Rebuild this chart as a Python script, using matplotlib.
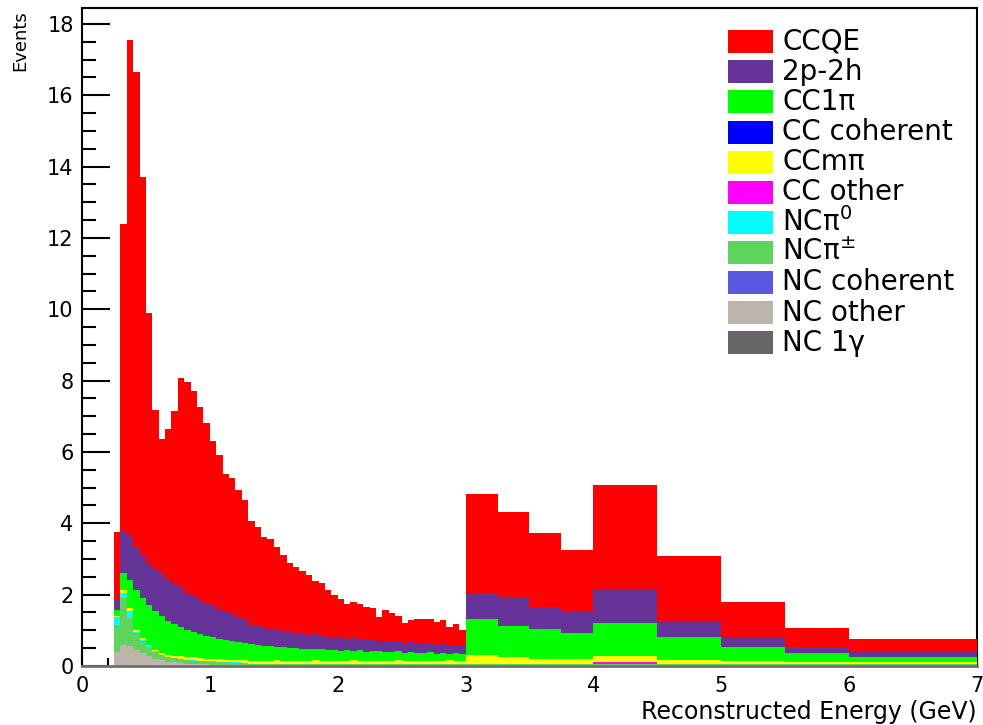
import numpy as np
import matplotlib
matplotlib.use("Agg")
import matplotlib.pyplot as plt
from matplotlib.patches import Rectangle
from matplotlib.ticker import MultipleLocator

### binning: fine 0.05 GeV bins up to 3 GeV, then wide bins
edges_low = [0.25 + 0.05 * i for i in range(56)]
edges_high = [3.25, 3.5, 3.75, 4.0, 4.5, 5.0, 5.5, 6.0, 7.0]

### event counts per channel, low-energy part (55 bins)
ccqe_low = [1.92, 8.64, 13.87, 13.30, 10.60, 7.00, 4.47, 3.79, 4.21, 4.85,
            5.88, 5.89, 5.76, 5.41, 5.03, 4.64, 4.32, 3.86, 3.82, 3.57,
            3.37, 2.91, 2.76, 2.52, 2.51, 2.30, 2.13, 1.93, 1.85, 1.76,
            1.69, 1.49, 1.51, 1.33, 1.17, 1.09, 0.98, 0.99, 0.99, 0.93,
            0.88, 0.67, 0.89, 0.77, 0.72, 0.57, 0.62, 0.68, 0.71, 0.66,
            0.64, 0.66, 0.50, 0.58, 0.45]
np2h_low = [0.28, 1.14, 1.28, 1.22, 1.20, 1.18, 1.19, 1.18, 1.16, 1.13,
            1.10, 1.05, 1.01, 0.97, 0.93, 0.88, 0.84, 0.79, 0.75, 0.69,
            0.63, 0.54, 0.54, 0.52, 0.48, 0.51, 0.46, 0.47, 0.42, 0.42,
            0.37, 0.42, 0.36, 0.36, 0.35, 0.35, 0.31, 0.37, 0.30, 0.32,
            0.32, 0.27, 0.28, 0.33, 0.25, 0.27, 0.28, 0.27, 0.25, 0.27,
            0.25, 0.26, 0.24, 0.24, 0.23]
cc1pi_low = [0.17, 0.49, 0.78, 1.12, 1.12, 1.13, 1.08, 1.04, 0.96, 0.88,
             0.81, 0.76, 0.71, 0.67, 0.63, 0.60, 0.57, 0.55, 0.53, 0.50,
             0.49, 0.47, 0.45, 0.43, 0.42, 0.38, 0.37, 0.35, 0.36, 0.33,
             0.34, 0.31, 0.32, 0.29, 0.32, 0.28, 0.30, 0.27, 0.29, 0.25,
             0.27, 0.28, 0.25, 0.23, 0.26, 0.22, 0.24, 0.21, 0.22, 0.23,
             0.20, 0.21, 0.19, 0.21, 0.18]
cccoh_low = [0.0] * 55
ccmpi_low = [0.02, 0.07, 0.07, 0.05, 0.05, 0.04, 0.04, 0.05, 0.05, 0.06,
             0.07, 0.07, 0.08, 0.07, 0.07, 0.07, 0.07, 0.07, 0.07, 0.07,
             0.07, 0.08, 0.08, 0.07, 0.08, 0.09, 0.08, 0.08, 0.07, 0.08,
             0.08, 0.09, 0.08, 0.08, 0.07, 0.08, 0.08, 0.09, 0.08, 0.08,
             0.08, 0.07, 0.08, 0.08, 0.09, 0.08, 0.08, 0.08, 0.07, 0.08,
             0.08, 0.08, 0.09, 0.08, 0.08]
ccother_low = [0.0] * 55
ncpi0_low = [0.23, 0.16, 0.21, 0.03, 0.02, 0.02] + [0.01] * 49
ncpipm_low = [0.75, 1.32, 0.78, 0.47, 0.34, 0.24, 0.19, 0.14, 0.13, 0.12,
              0.11, 0.10, 0.09, 0.09, 0.08, 0.08, 0.07, 0.07, 0.06, 0.06,
              0.06] + [0.04] * 34
nccoh_low = [0.0] * 55
ncother_low = [0.40, 0.58, 0.56, 0.46, 0.37, 0.29, 0.21, 0.16, 0.12, 0.10,
               0.08, 0.07, 0.06, 0.05, 0.05, 0.04, 0.04, 0.03, 0.03, 0.03,
               0.02] + [0.02] * 34
nc1g_low = [0.0] * 55

### high-energy part (9 wide bins)
ccqe_high = [2.78, 2.38, 2.06, 1.73, 2.91, 1.80, 1.02, 0.53, 0.36]
np2h_high = [0.73, 0.82, 0.61, 0.60, 0.95, 0.45, 0.24, 0.17, 0.16]
cc1pi_high = [1.00, 0.86, 0.84, 0.73, 0.93, 0.65, 0.39, 0.25, 0.14]
cccoh_high = [0.0] * 9
ccmpi_high = [0.25, 0.20, 0.15, 0.13, 0.16, 0.11, 0.09, 0.06, 0.04]
ccother_high = [0.0, 0.0, 0.0, 0.0, 0.06, 0.0, 0.0, 0.0, 0.0]
ncpi0_high = [0.01] * 9
ncpipm_high = [0.03] * 9
nccoh_high = [0.0] * 9
ncother_high = [0.02] * 9
nc1g_high = [0.0] * 9

labels = ["CCQE", "2p-2h", "CC1π", "CC coherent", "CCmπ", "CC other",
          "NCπ$^{0}$", "NCπ$^{\\pm}$", "NC coherent", "NC other", "NC 1γ"]
colors = ["#ff0000", "#663399", "#00ff00", "#0000ff", "#ffff00", "#ff00ff",
          "#00ffff", "#5ed35e", "#5858e0", "#bdb4ab", "#666666"]
channels_low = [ccqe_low, np2h_low, cc1pi_low, cccoh_low, ccmpi_low, ccother_low,
                ncpi0_low, ncpipm_low, nccoh_low, ncother_low, nc1g_low]
channels_high = [ccqe_high, np2h_high, cc1pi_high, cccoh_high, ccmpi_high, ccother_high,
                 ncpi0_high, ncpipm_high, nccoh_high, ncother_high, nc1g_high]

edges = np.array(edges_low + edges_high)

fig = plt.figure(figsize=(9.83, 7.25), dpi=100)
ax = fig.add_axes([82/983, 1-666/725, (977-82)/983, (666-8)/725])

# stack from the bottom (last legend entry) to the top (CCQE)
base = np.zeros(len(edges) - 1)
for i in range(len(labels) - 1, -1, -1):
    vals = np.array(channels_low[i] + channels_high[i])
    top = base + vals
    ax.stairs(top, edges, baseline=base, fill=True, color=colors[i], lw=0, zorder=3)
    base = top

ax.set_xlim(0, 7)
ax.set_ylim(0, (666-8)/35.67)

ax.yaxis.set_major_locator(MultipleLocator(2))
ax.yaxis.set_minor_locator(MultipleLocator(0.5))
ax.xaxis.set_major_locator(MultipleLocator(1))
ax.xaxis.set_minor_locator(MultipleLocator(0.2))
ax.tick_params(axis="y", which="major", direction="in", length=20, width=1.5, labelsize=15, pad=6)
ax.tick_params(axis="y", which="minor", direction="in", length=10, width=1.5)
ax.tick_params(axis="x", which="major", direction="in", length=14, width=1.5, labelsize=15, pad=7)
ax.tick_params(axis="x", which="minor", direction="in", length=6, width=1.5)

for s in ["left", "right", "top"]:
    ax.spines[s].set_linewidth(1.5)
ax.spines["bottom"].set_color("#707070")
ax.spines["bottom"].set_linewidth(2)
ax.spines["bottom"].set_zorder(4)

fig.text(20/983, 1-10/725, "Events", rotation=90, ha="center", va="top", fontsize=13)
fig.text(977/983, 1-712/725, "Reconstructed Energy (GeV)", ha="right", va="center", fontsize=17)

# legend drawn by hand: coloured boxes and labels
for i, lab in enumerate(labels):
    yc = 41.7 + 30.1 * i
    fig.patches.append(Rectangle((728/983, 1-(yc+11.5)/725), 45/983, 23/725,
                                 transform=fig.transFigure, color=colors[i], lw=0))
    fig.text(782/983, 1-yc/725, lab, ha="left", va="center", fontsize=20)

fig.savefig("out.png", dpi=100)
